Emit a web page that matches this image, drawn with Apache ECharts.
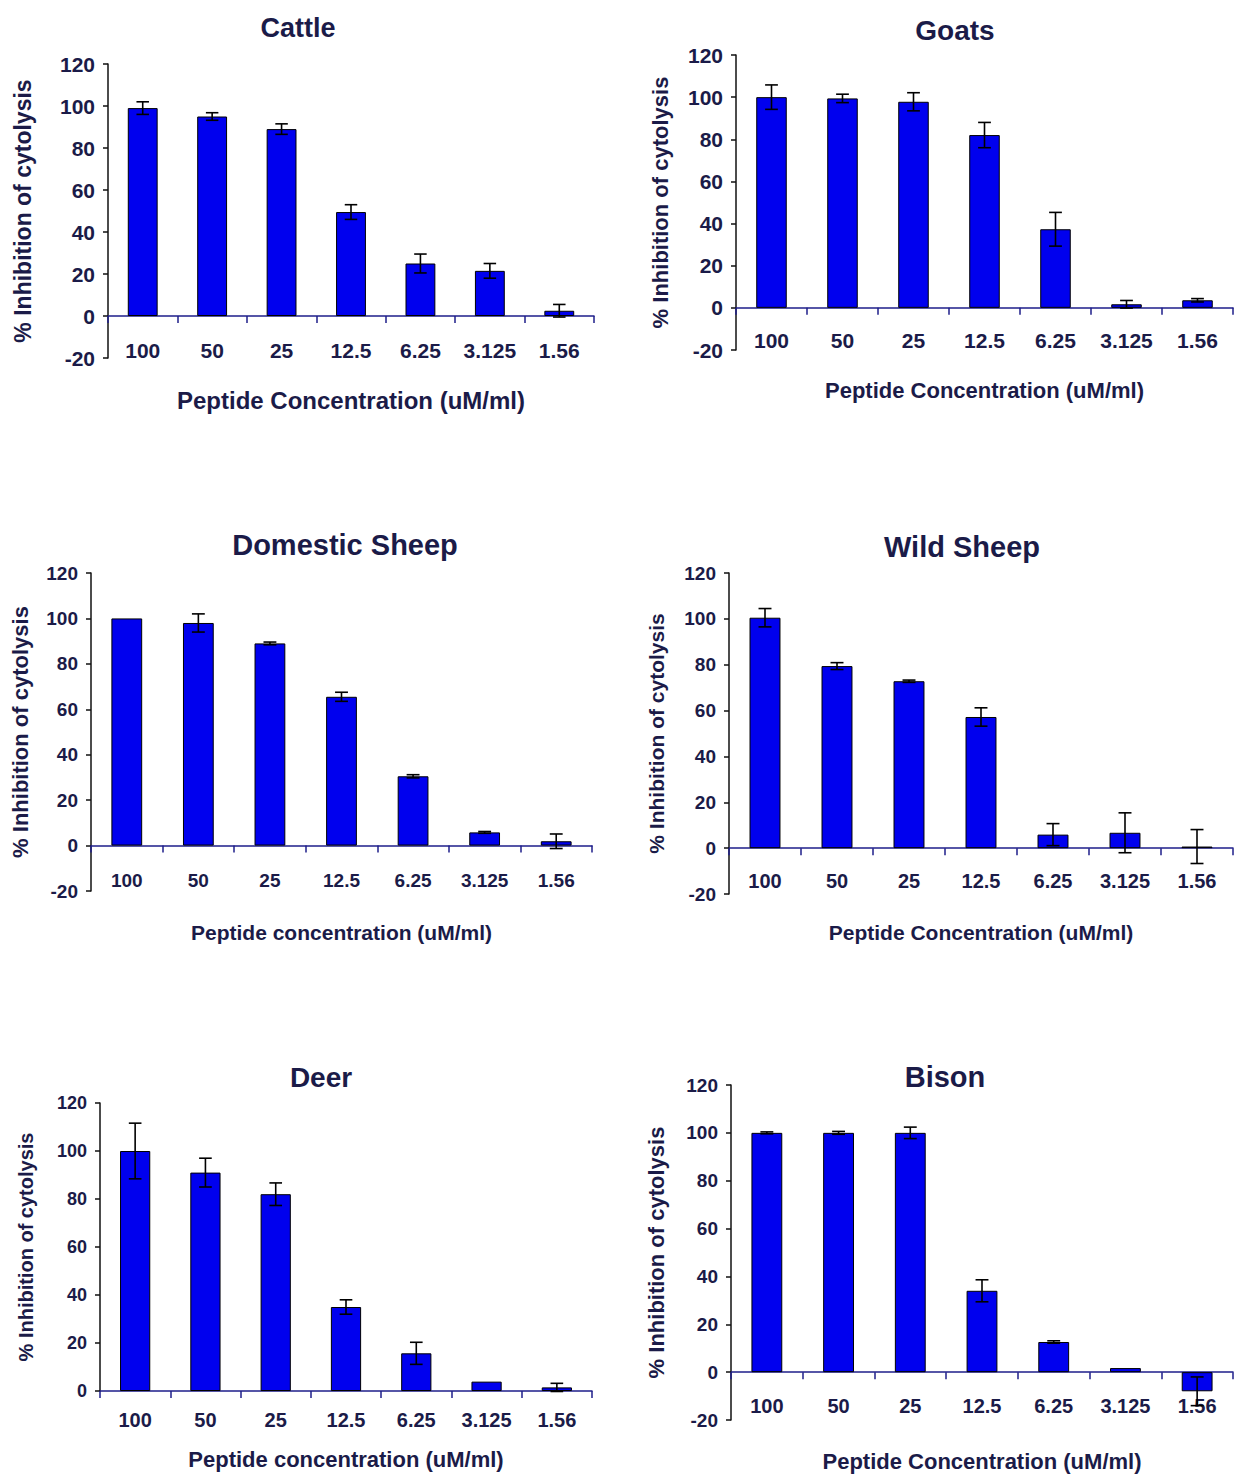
<!DOCTYPE html>
<html>
<head>
<meta charset="utf-8">
<script src="https://cdn.jsdelivr.net/npm/echarts@6/dist/echarts.min.js"></script>
<style>
html,body{margin:0;padding:0;background:#fff;}
#chart{width:1235px;height:1475px;}
</style>
</head>
<body>
<div id="chart"></div>
<script>
// ---- data ----
var categories = ['100', '50', '25', '12.5', '6.25', '3.125', '1.56'];
var yTicks = [-20, 0, 20, 40, 60, 80, 100, 120];

var cattleValues = [99, 95, 89, 49.5, 25, 21.5, 2.5];
var cattleErrors = [3, 1.8, 2.5, 3.5, 4.5, 3.5, 3];

var goatsValues = [100, 99.4, 97.8, 82, 37.3, 1.7, 3.6];
var goatsErrors = [5.8, 2, 4.3, 6, 8, 1.8, 0.8];

var domesticValues = [100, 98, 89, 65.5, 30.5, 5.8, 1.9];
var domesticErrors = [0, 4, 0.6, 2, 0.7, 0.4, 3.2];

var wildValues = [100.5, 79.4, 72.8, 57.2, 5.9, 6.7, 0.7];
var wildErrors = [4, 1.5, 0.5, 4, 4.8, 8.7, 7.4];

var deerValues = [100, 91, 82, 35, 15.7, 3.9, 1.5];
var deerErrors = [11.6, 6, 4.7, 3, 4.6, 0, 1.7];

var bisonValues = [100, 100, 100, 34, 12.6, 1.7, -8];
var bisonErrors = [0.4, 0.6, 2.4, 4.6, 0.5, 0, 6];

var titles = ['Cattle', 'Goats', 'Domestic Sheep', 'Wild Sheep', 'Deer', 'Bison'];
var xNames = ['Peptide Concentration (uM/ml)', 'Peptide Concentration (uM/ml)',
  'Peptide concentration (uM/ml)', 'Peptide Concentration (uM/ml)',
  'Peptide concentration (uM/ml)', 'Peptide Concentration (uM/ml)'];
var yName = '% Inhibition of cytolysis';

// ---- layout / style ----
var panels = [
  {values: cattleValues, errors: cattleErrors, min: -20,
   grid: {left: 108, top: 64, width: 486, height: 294},
   title: {x: 298, y: 28, size: 27}, tick: 21, yTick: 21, xName: 24, yNameSize: 23, xGap: 30, yGap: 74, lblMargin: -18},
  {values: goatsValues, errors: goatsErrors, min: -20,
   grid: {left: 736, top: 55, width: 497, height: 295},
   title: {x: 955, y: 30, size: 28}, tick: 21, yTick: 21, xName: 22, yNameSize: 22, xGap: 29, yGap: 65, lblMargin: -20},
  {values: domesticValues, errors: domesticErrors, min: -20,
   grid: {left: 91, top: 573, width: 501, height: 318},
   title: {x: 345, y: 545, size: 29}, tick: 19, yTick: 19, xName: 21, yNameSize: 22, xGap: 31, yGap: 60, lblMargin: -20},
  {values: wildValues, errors: wildErrors, min: -20,
   grid: {left: 729, top: 573, width: 504, height: 321},
   title: {x: 962, y: 547, size: 29}, tick: 20, yTick: 19, xName: 21, yNameSize: 21, xGap: 28, yGap: 62, lblMargin: -23},
  {values: deerValues, errors: deerErrors, min: 0,
   grid: {left: 100, top: 1103, width: 492, height: 288},
   title: {x: 321, y: 1077, size: 28}, tick: 20, yTick: 18, xName: 22, yNameSize: 20, xGap: 57, yGap: 64, lblMargin: 19},
  {values: bisonValues, errors: bisonErrors, min: -20,
   grid: {left: 731, top: 1085, width: 502, height: 335},
   title: {x: 945, y: 1077, size: 29}, tick: 20, yTick: 19, xName: 22, yNameSize: 22, xGap: 30, yGap: 64, lblMargin: -24}
];

var FONT = '"Liberation Sans", Arial, sans-serif';
var TEXT = '#1b1b48';
var BAR = '#0000ee';

var option = {
  backgroundColor: '#ffffff',
  animation: false,
  title: [], grid: [], xAxis: [], yAxis: [], series: []
};

panels.forEach(function (p, i) {
  option.title.push({
    text: titles[i], left: p.title.x, top: p.title.y - p.title.size / 2, padding: 0,
    textAlign: 'center',
    textStyle: {fontFamily: FONT, fontWeight: 'bold', fontSize: p.title.size, color: TEXT}
  });
  option.grid.push(Object.assign({containLabel: false}, p.grid));
  option.xAxis.push({
    type: 'category', gridIndex: i, data: categories,
    name: xNames[i], nameLocation: 'middle', nameGap: p.xGap,
    nameTextStyle: {fontFamily: FONT, fontWeight: 'bold', fontSize: p.xName, color: TEXT},
    axisLine: {onZero: true, lineStyle: {color: '#1e1e8a', width: 1.5}},
    axisTick: {show: true, interval: 0, length: 7, lineStyle: {color: '#1e1e8a', width: 1.5}},
    axisLabel: {interval: 0, margin: p.lblMargin, fontFamily: FONT, fontWeight: 'bold', fontSize: p.tick, color: TEXT},
    splitLine: {show: false}
  });
  option.yAxis.push({
    type: 'value', gridIndex: i, min: p.min, max: 120, interval: 20,
    name: yName, nameLocation: 'middle', nameRotate: 90, nameGap: p.yGap,
    nameTextStyle: {fontFamily: FONT, fontWeight: 'bold', fontSize: p.yNameSize, color: TEXT},
    axisLine: {show: true, onZero: false, lineStyle: {color: '#111', width: 1.5}},
    axisTick: {show: true, length: 5, lineStyle: {color: '#111', width: 1.5}},
    axisLabel: {margin: 13, fontFamily: FONT, fontWeight: 'bold', fontSize: p.yTick, color: TEXT},
    splitLine: {show: false}
  });
  option.series.push({
    type: 'bar', xAxisIndex: i, yAxisIndex: i, data: p.values, barWidth: '43%',
    itemStyle: {color: BAR, borderColor: '#000', borderWidth: 1}, z: 2
  });
  var errData = p.values.map(function (v, k) { return [k, v - p.errors[k], v + p.errors[k]]; });
  option.series.push({
    type: 'custom', xAxisIndex: i, yAxisIndex: i, data: errData, z: 5,
    renderItem: function (params, api) {
      var k = api.value(0), lo = api.value(1), hi = api.value(2);
      if (hi - lo < 0.05) return null;
      var pLo = api.coord([k, lo]), pHi = api.coord([k, hi]);
      var cap = api.size([1, 0])[0] * 0.09;
      var st = {stroke: '#000', lineWidth: 1.6};
      return {type: 'group', children: [
        {type: 'line', shape: {x1: pLo[0], y1: pLo[1], x2: pHi[0], y2: pHi[1]}, style: st},
        {type: 'line', shape: {x1: pHi[0] - cap, y1: pHi[1], x2: pHi[0] + cap, y2: pHi[1]}, style: st},
        {type: 'line', shape: {x1: pLo[0] - cap, y1: pLo[1], x2: pLo[0] + cap, y2: pLo[1]}, style: st}
      ]};
    }
  });
});

var chart = echarts.init(document.getElementById('chart'), null, {renderer: 'svg', width: 1235, height: 1475});
chart.setOption(option);
</script>
</body>
</html>
